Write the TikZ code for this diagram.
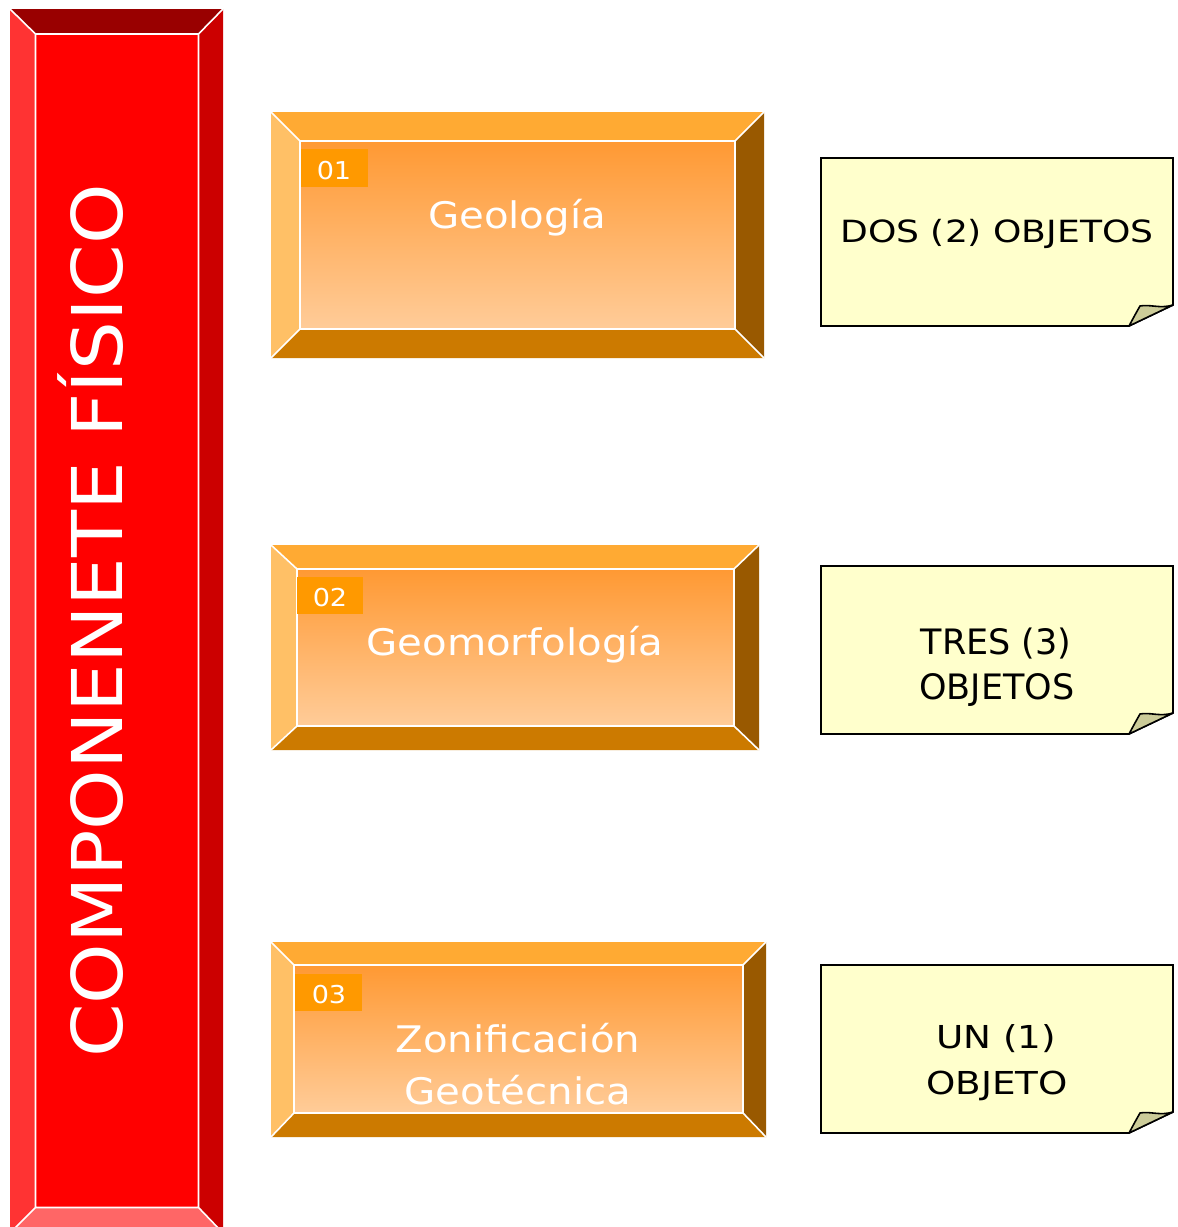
\documentclass[tikz,border=0pt]{standalone}
\usepackage{fontspec}
\setmainfont{DejaVu Sans}[FakeStretch=1.1]
\newfontfamily\plainfont{DejaVu Sans}
\newfontfamily\widefont{DejaVu Sans}[FakeStretch=1.18]
\usetikzlibrary{calc}
\definecolor{rtop}{HTML}{990000}
\definecolor{rleft}{HTML}{FF3333}
\definecolor{rright}{HTML}{CC0000}
\definecolor{rbot}{HTML}{FF6666}
\definecolor{rmid}{HTML}{FF0000}
\definecolor{otop}{HTML}{FFAA33}
\definecolor{oleft}{HTML}{FFC066}
\definecolor{oright}{HTML}{995900}
\definecolor{obot}{HTML}{CC7A00}
\definecolor{omidtop}{HTML}{FF9933}
\definecolor{omidbot}{HTML}{FFCC99}
\definecolor{olab}{HTML}{FF9900}
\definecolor{notefill}{HTML}{FFFFCC}
\definecolor{foldfill}{HTML}{CCCC99}
\newcommand{\bevelbox}[9]{%
  \coordinate (#1otl) at (#2); \coordinate (#1obr) at (#3);
  \coordinate (#1itl) at (#4); \coordinate (#1ibr) at (#5);
  \coordinate (#1otr) at (#1obr |- #1otl); \coordinate (#1obl) at (#1otl |- #1obr);
  \coordinate (#1itr) at (#1ibr |- #1itl); \coordinate (#1ibl) at (#1itl |- #1ibr);
  \fill[#6] (#1otl) -- (#1otr) -- (#1itr) -- (#1itl) -- cycle;
  \fill[#7] (#1otl) -- (#1itl) -- (#1ibl) -- (#1obl) -- cycle;
  \fill[#8] (#1otr) -- (#1obr) -- (#1ibr) -- (#1itr) -- cycle;
  \fill[#9] (#1obl) -- (#1ibl) -- (#1ibr) -- (#1obr) -- cycle;
}
\newcommand{\bevellines}[1]{%
  \draw[sepline] (#1itl) rectangle (#1ibr)
    (#1otl) -- (#1itl) (#1otr) -- (#1itr) (#1obl) -- (#1ibl) (#1obr) -- (#1ibr);
}
\newcommand{\notebox}[3]{% name, top y, bottom y
  \draw[notestyle] (821,#2) -- (1173,#2) -- (1173,#3-21) -- (1129,#3) -- (821,#3) -- cycle;
  \draw[foldstyle] (1129,#3) -- (1173,#3-21) .. controls (1160,#3-17) and (1150,#3-22) .. (1140,#3-20)
     .. controls (1136,#3-13) .. (1129,#3) -- cycle;
  \coordinate (#1) at (997,{(#2+#3)/2});
}
\tikzset{
  sepline/.style={white, line width=0.8pt},
  notestyle/.style={fill=notefill, draw=black, line width=0.8pt, line join=miter},
  foldstyle/.style={fill=foldfill, draw=black, line width=0.8pt, line join=round},
  boxtext/.style={text=white, anchor=base, inner sep=0pt, font=\fontsize{18.3pt}{22pt}\selectfont},
  numtext/.style={text=white, anchor=base, inner sep=0pt, font=\fontsize{12.3pt}{14pt}\selectfont},
  notetext/.style={text=black, anchor=base, inner sep=0pt},
}
\begin{document}
\begin{tikzpicture}[x=0.5pt, y=-0.5pt]
\useasboundingbox (0,0) rectangle (1178,1227);
\fill[white] (0,0) rectangle (1178,1227);
% red bar
\bevelbox{r}{10,9}{223,1233}{35.5,34}{198.5,1207.5}{rtop}{rleft}{rright}{rbot}
\fill[rmid] (ritl) rectangle (ribr);
\bevellines{r}
\node[rotate=90, anchor=base, text=white, inner sep=0pt,
      font=\fontsize{35pt}{38pt}\selectfont] (title) at (122,621) {COMPONENETE FÍSICO};
% box 1
\bevelbox{a}{271,112}{764,358}{300,141}{735,329}{otop}{oleft}{oright}{obot}
\shade[top color=omidtop, bottom color=omidbot] (aitl) rectangle (aibr);
\bevellines{a}
\fill[olab] (301,149) rectangle (368,187);
\node[numtext] (n1) at (334,179) {01};
\node[boxtext] (b1) at (517,228) {Geología};
% box 2
\bevelbox{b}{271,545}{759,750}{297,569}{734,726}{otop}{oleft}{oright}{obot}
\shade[top color=omidtop, bottom color=omidbot] (bitl) rectangle (bibr);
\bevellines{b}
\fill[olab] (297,577) rectangle (363,614);
\node[numtext] (n2) at (330,606) {02};
\node[boxtext] (b2) at (515,655) {Geomorfología};
% box 3
\bevelbox{c}{271,942}{766,1137}{294,965}{743,1113}{otop}{oleft}{oright}{obot}
\shade[top color=omidtop, bottom color=omidbot] (citl) rectangle (cibr);
\bevellines{c}
\fill[olab] (295,974) rectangle (362,1011);
\node[numtext] (n3) at (329,1003) {03};
\node[boxtext] (b3a) at (518,1052) {Zonificación};
\node[boxtext] (b3b) at (518,1104) {Geotécnica};
% notes
\notebox{k1}{158}{326}
\node[notetext, font=\widefont\fontsize{15.3pt}{18pt}\selectfont] (t1) at (997,242) {DOS (2) OBJETOS};
\notebox{k2}{566}{734}
\node[notetext, font=\plainfont\fontsize{17.5pt}{21pt}\selectfont] (t2a) at (996,654) {TRES (3)};
\node[notetext, font=\plainfont\fontsize{17.5pt}{21pt}\selectfont] (t2b) at (997,699) {OBJETOS};
\notebox{k3}{965}{1133}
\node[notetext, font=\widefont\fontsize{15.8pt}{18pt}\selectfont] (t3a) at (996,1048) {UN (1)};
\node[notetext, font=\widefont\fontsize{15.8pt}{18pt}\selectfont] (t3b) at (997,1094) {OBJETO};
\end{tikzpicture}
\end{document}
